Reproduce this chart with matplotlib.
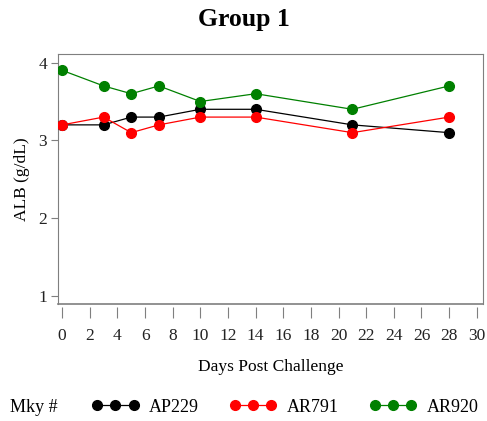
import matplotlib
matplotlib.use('Agg')
import matplotlib.pyplot as plt

plt.rcParams['font.family'] = ['Liberation Serif', 'DejaVu Serif']

# Days post challenge and ALB values per monkey
days = [0, 3, 5, 7, 10, 14, 21, 28]
ap229 = [3.2, 3.2, 3.3, 3.3, 3.4, 3.4, 3.2, 3.1]
ar791 = [3.2, 3.3, 3.1, 3.2, 3.3, 3.3, 3.1, 3.3]
ar920 = [3.9, 3.7, 3.6, 3.7, 3.5, 3.6, 3.4, 3.7]

names = ['AP229', 'AR791', 'AR920']
colors = ['black', 'red', 'green']
series = [ap229, ar791, ar920]

fig = plt.figure(figsize=(4.87, 4.21), dpi=100)
ax = fig.add_axes([58 / 487, 117 / 421, 425 / 487, 250 / 421])

handles = []
for name, c, vals in zip(names, colors, series):
    h, = ax.plot(days, vals, color=c, lw=0.9, marker='o', ms=7,
                 markeredgecolor=c, markerfacecolor=c, label=name, zorder=3)
    handles.append(h)

ax.set_xlim(-0.3, 30.45)
ax.set_ylim(0.9, 4.11)
ax.set_xticks(range(0, 31, 2))
ax.set_yticks([1, 2, 3, 4])

frame = '#7f7f7f'
for s in ax.spines.values():
    s.set_color(frame)
ax.spines['bottom'].set_position(('outward', 2))
ax.spines['bottom'].set_color('none')
ax.plot([0, 1], [0, 0], transform=ax.transAxes, color=frame, lw=1.2,
        clip_on=False, zorder=5)

ax.tick_params(axis='both', direction='out', color=frame, labelsize=12.5,
               labelcolor='#222222')
ax.tick_params(axis='x', length=8, pad=7)
ax.tick_params(axis='y', length=5, pad=3)

ax.set_xlabel('Days Post Challenge', fontsize=12.5, labelpad=11)
ax.set_ylabel('ALB (g/dL)', fontsize=12.5, labelpad=6)
fig.suptitle('Group 1', fontsize=18.5, fontweight='bold', y=0.98)

fig.text(10 / 487, 1 - 407 / 421, 'Mky #', fontsize=13, va='center')
fig.legend(handles=handles, loc='center left', ncol=3, frameon=False,
           bbox_to_anchor=(92 / 487, 1 - 407 / 421), numpoints=3,
           handlelength=2.6, handletextpad=0.55, columnspacing=1.72,
           fontsize=13, borderaxespad=0, borderpad=0)

fig.savefig('out.png', dpi=100)
